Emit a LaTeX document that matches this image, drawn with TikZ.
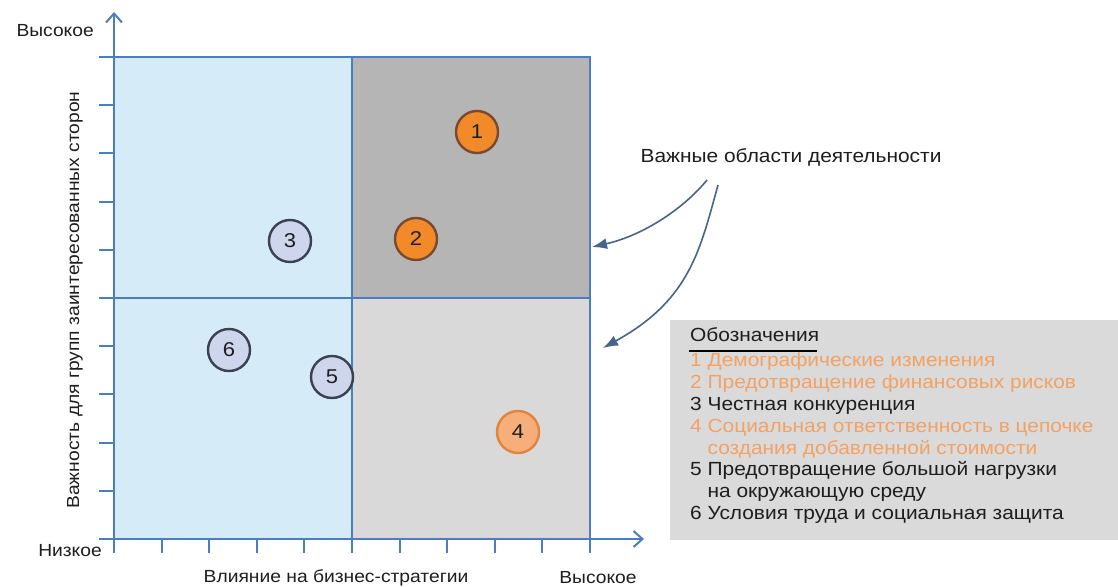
\documentclass[tikz,border=0pt]{standalone}
\usepackage{fontspec}
\setmainfont[FakeStretch=1.1]{Liberation Sans}
\usetikzlibrary{arrows.meta}
\definecolor{axisblue}{HTML}{4A7EC0}
\definecolor{lightblue}{HTML}{D6EBF8}
\definecolor{darkgr}{HTML}{B5B5B5}
\definecolor{lightgr}{HTML}{D9D9D9}
\definecolor{legendgr}{HTML}{DADADA}
\definecolor{legorange}{HTML}{F2A265}
\definecolor{orfill}{HTML}{F28A2A}
\definecolor{orborder}{HTML}{7A4A30}
\definecolor{lorfill}{HTML}{F6AE7A}
\definecolor{lorborder}{HTML}{E4843E}
\definecolor{bluefill}{HTML}{CED6EE}
\definecolor{blueborder}{HTML}{3A4252}
\definecolor{arrowblue}{HTML}{46648E}
\definecolor{textgr}{HTML}{1E1E1E}
\tikzset{
  axisline/.style={axisblue, line width=2pt},
  tickline/.style={axisblue, line width=2pt},
  bubble/.style={circle, minimum size=42pt, inner sep=0pt, line width=2.4pt, font=\fontsize{20}{22}\selectfont, text=textgr},
  hotbubble/.style={bubble, fill=orfill, draw=orborder},
  warmbubble/.style={bubble, fill=lorfill, draw=lorborder},
  coolbubble/.style={bubble, fill=bluefill, draw=blueborder},
  legline/.style={anchor=west, inner sep=0pt, text height=13.5pt, text depth=4pt, font=\fontsize{19}{21}\selectfont, text=textgr},
  orline/.style={legline, text=legorange},
  axlabel/.style={inner sep=0pt, font=\fontsize{17.5}{19}\selectfont, text=textgr},
  callout/.style={arrowblue, line width=1.6pt, -{Latex[length=15pt,width=11pt]}}
}
\begin{document}
\begin{tikzpicture}[x=1pt,y=-1pt]
\useasboundingbox (0,0) rectangle (1118,586);
\fill[white] (0,0) rectangle (1118,586);
% quadrants
\fill[lightblue] (114,57) rectangle (352,539);
\fill[darkgr] (352,57) rectangle (590,298);
\fill[lightgr] (352,298) rectangle (590,539);
% grid lines
\draw[axisline] (99,57) -- (590,57) -- (590,539);
\draw[axisline] (352,57) -- (352,539);
\draw[axisline] (114,298) -- (590,298);
% ticks
\foreach \k in {1,...,9} \draw[tickline] (99,{57+48.2*\k}) -- (114,{57+48.2*\k});
\foreach \k in {1,...,10} \draw[tickline] ({114+47.6*\k},539) -- ({114+47.6*\k},553);
% axes
\draw[axisline, -{Straight Barb[length=9pt,width=16pt]}] (114,553) -- (114,12);
\draw[axisline, -{Straight Barb[length=9pt,width=16pt]}] (99,539) -- (644,539);
% axis labels
\node[axlabel, anchor=east] (yhigh) at (94,31) {Высокое};
\node[axlabel, anchor=east] (ylow) at (102,551) {Низкое};
\node[axlabel] (xlab) at (336,578) {Влияние на бизнес-стратегии};
\node[axlabel] (xhigh) at (598,578) {Высокое};
\node[axlabel, rotate=90] (ylab) at (75,300) {Важность для групп заинтересованных сторон};
% bubbles
\node[hotbubble] (b1) at (477,132) {1};
\node[hotbubble] (b2) at (416,239) {2};
\node[coolbubble] (b3) at (290,241) {3};
\node[warmbubble] (b4) at (518,432) {4};
\node[coolbubble] (b5) at (332,377) {5};
\node[coolbubble] (b6) at (229,350) {6};
% callout
\node[legline, anchor=center] (imp) at (791,158) {Важные области деятельности};
\coordinate (t1) at (592,247);
\coordinate (t2) at (603,348);
\draw[callout] (707,180) .. controls (685,207) and (645,235) .. (t1);
\draw[callout] (718,185) .. controls (700,250) and (690,300) .. (t2);
% legend
\fill[legendgr] (670,320) rectangle (1118,540);
\node[legline] (lh) at (690,337) {Обозначения};
\draw[black, line width=1.3pt] (689,351) -- (817,351);
\node[orline] (l1) at (690,362) {1 Демографические изменения};
\node[orline] (l2) at (690,384) {2 Предотвращение финансовых рисков};
\node[legline] (l3) at (690,406) {3 Честная конкуренция};
\node[orline] (l4) at (690,428) {4 Социальная ответственность в цепочке};
\node[orline] (l4b) at (690,450) {\phantom{4 }создания добавленной стоимости};
\node[legline] (l5) at (690,471) {5 Предотвращение большой нагрузки};
\node[legline] (l5b) at (690,493) {\phantom{5 }на окружающую среду};
\node[legline] (l6) at (690,515) {6 Условия труда и социальная защита};
\end{tikzpicture}
\end{document}
